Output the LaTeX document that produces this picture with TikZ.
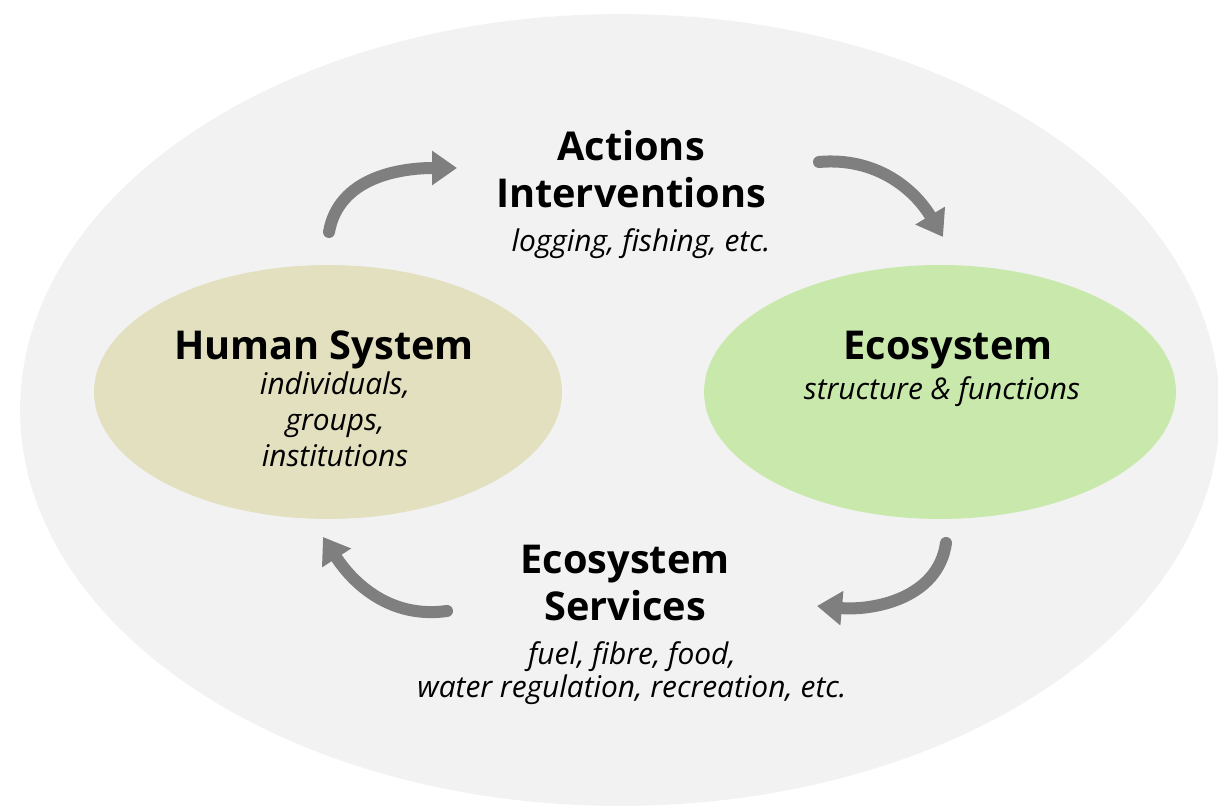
\documentclass[tikz,border=0pt]{standalone}
\usepackage{fontspec}
\setmainfont{Open Sans}
\usetikzlibrary{arrows.meta,shapes.geometric}
\definecolor{bggrey}{HTML}{F2F2F2}
\definecolor{humanfill}{HTML}{E3E0C0}
\definecolor{ecofill}{HTML}{C9E8AB}
\definecolor{arrowgrey}{HTML}{7F7F7F}

\begin{document}
\begin{tikzpicture}[x=0.02cm,y=0.02cm]
\tikzset{blob/.style = {shape=ellipse,inner sep=0pt}}
\tikzset{title/.style = {font=\fontsize{22.6}{27.3}\selectfont\bfseries,align=center,anchor=base}}
\tikzset{sub/.style = {font=\fontsize{17}{20.5}\selectfont\itshape,align=center,anchor=base}}
\tikzset{edge/.style = {draw=arrowgrey,line width=0.24cm,line cap=round,-{Triangle[length=0.5cm,width=0.66cm]}}}
\useasboundingbox (0,0) rectangle (1218,810);
% systems
\node[blob,fill=bggrey,minimum width=24cm,minimum height=15.84cm] (ses) at (620,400) {};
\node[blob,fill=humanfill,minimum width=9.36cm,minimum height=5.08cm] (human) at (328,418) {};
\node[blob,fill=ecofill,minimum width=9.44cm,minimum height=5.08cm] (eco) at (940,418) {};
% labels
\node[title] (hstitle) at (324,450) {Human System};
\node[sub] (hssub) at (335,343) {individuals,\\groups,\\institutions};
\node[title] (ecotitle) at (948,450) {Ecosystem};
\node[sub] (ecosub) at (942,410) {structure \& functions};
\node[title] (act) at (631,602) {Actions\\Interventions};
\node[sub] (actsub) at (641,558) {logging, fishing, etc.};
\node[title] (ess) at (625,189) {Ecosystem\\Services};
\node[sub,font=\fontsize{17}{18.8}\selectfont\itshape] (esssub) at (632,112) {fuel, fibre, food,\\water regulation, recreation, etc.};
% arrow ends
\coordinate (hs-out) at (329,578);
\coordinate (act-in) at (457,642);
\coordinate (act-out) at (819,648);
\coordinate (eco-in) at (943,573);
\coordinate (eco-out) at (946,267);
\coordinate (ess-in) at (817,204);
\coordinate (ess-out) at (447,199);
\coordinate (hs-in) at (323,273);
%edges
\draw[edge] (hs-out) to[out=80,in=180] (act-in);
\draw[edge] (act-out) to[out=5,in=121] (eco-in);
\draw[edge] (eco-out) to[out=262,in=-5] (ess-in);
\draw[edge] (ess-out) to[out=188,in=-57] (hs-in);
\end{tikzpicture}
\end{document}
